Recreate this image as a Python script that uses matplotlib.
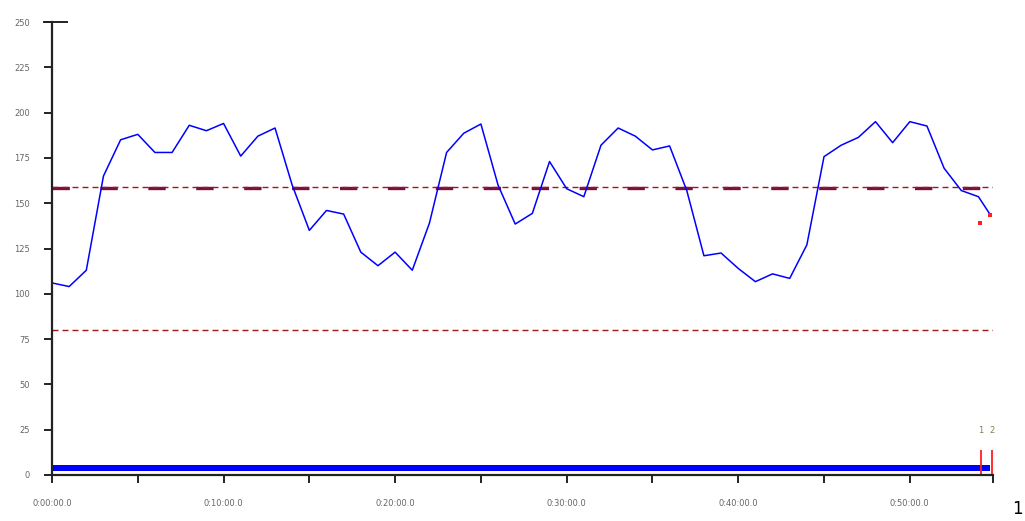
import numpy as np
import matplotlib
matplotlib.use('Agg')
import matplotlib.pyplot as plt
from matplotlib.ticker import FixedLocator, FuncFormatter
import matplotlib.transforms as mtransforms

# Data (time in minutes, value)
t_min = [0, 1, 2, 3, 4, 5, 6, 7, 8, 9, 10, 11, 12, 13, 14, 15, 16, 17, 18, 19,
         20, 21, 22, 23, 24, 25, 26, 27, 28, 29, 30, 31, 32, 33, 34, 35, 36, 37,
         38, 39, 40, 41, 42, 43, 44, 45, 46, 47, 48, 49, 50, 51, 52, 53, 54, 54.7]
values = [106, 104, 113, 165, 185, 188, 178, 178, 193, 190, 194, 176, 187, 191.5,
          160, 135, 146, 144, 123, 115.5, 123, 113, 139, 178, 188.6, 193.7, 160,
          138.5, 144.4, 173, 158, 153.6, 182, 191.5, 187, 179.4, 181.6, 157, 121,
          122.5, 114, 106.7, 111, 108.5, 127, 175.7, 182, 186.3, 195, 183.4, 195,
          192.6, 169.3, 157, 153.6, 143.5]

upper_limit = 159
lower_limit = 80
red_pts_t = [54.1, 54.7]
red_pts_v = [139, 143.5]
marker_t = [54.15, 54.79]
marker_labels = ['1', '2']
x_end = 54.85

plt.rcParams['lines.scale_dashes'] = False

fig = plt.figure(figsize=(10.25, 5.21), dpi=100)
ax = fig.add_axes([52 / 1025, 46 / 521, 941 / 1025, 453 / 521])

# limit lines
ax.axhline(lower_limit, color='#a01818', lw=1.0, dashes=(4.3, 2.9))
ax.axhline(upper_limit - 0.5, color='#7a1040', lw=2.4, dashes=(12.5, 22), dash_capstyle='butt')
ax.axhline(upper_limit, color='#a01818', lw=1.0, dashes=(4.3, 2.9))

# main series
ax.plot(t_min, values, color='#0000ff', lw=1.1)
ax.plot(red_pts_t, red_pts_v, 's', color='#ff2020', ms=2.2, mew=0)

# bottom bar and event markers
ax.fill_between([0, t_min[-1]], 2.2, 5.6, color='#0000ff', lw=0)
ax.vlines(marker_t, 0, 14, color='#ff2020', lw=1.3)
for mt, lab in zip(marker_t, marker_labels):
    ax.text(mt, 22, lab, ha='center', va='bottom', fontsize=6, color='#8a7a5a')

ax.set_xlim(0, x_end)
ax.set_ylim(0, 250)

for s in ['top', 'right']:
    ax.spines[s].set_visible(False)
for s in ['left', 'bottom']:
    ax.spines[s].set_linewidth(1.6)
    ax.spines[s].set_color('#222222')

ax.yaxis.set_major_locator(FixedLocator(np.arange(0, 251, 25)))
ax.tick_params(axis='y', direction='out', length=6, width=1.4, pad=10,
               labelsize=6, labelcolor='#666666', color='#222222')

ax.xaxis.set_major_locator(FixedLocator(list(range(0, 51, 10))))
ax.xaxis.set_minor_locator(FixedLocator(list(range(5, 51, 10)) + [x_end]))


def fmt_time(m, pos):
    h = int(m // 60)
    mm = int(m % 60)
    return f'{h}:{mm:02d}:00.0'


ax.xaxis.set_major_formatter(FuncFormatter(fmt_time))
ax.tick_params(axis='x', which='both', direction='out', length=6, width=1.4,
               color='#222222')
ax.tick_params(axis='x', which='major', pad=11, labelsize=6, labelcolor='#666666')

# cap at top of y axis
trans = mtransforms.blended_transform_factory(ax.transAxes, ax.transData)
ax.plot([-0.0085, 0.016], [250, 250], color='#222222', lw=1.4, transform=trans,
        clip_on=False)

fig.text(1012 / 1025, 3 / 521, '1', fontsize=12, va='bottom', ha='left', color='black')

fig.savefig('out.png', dpi=100)
